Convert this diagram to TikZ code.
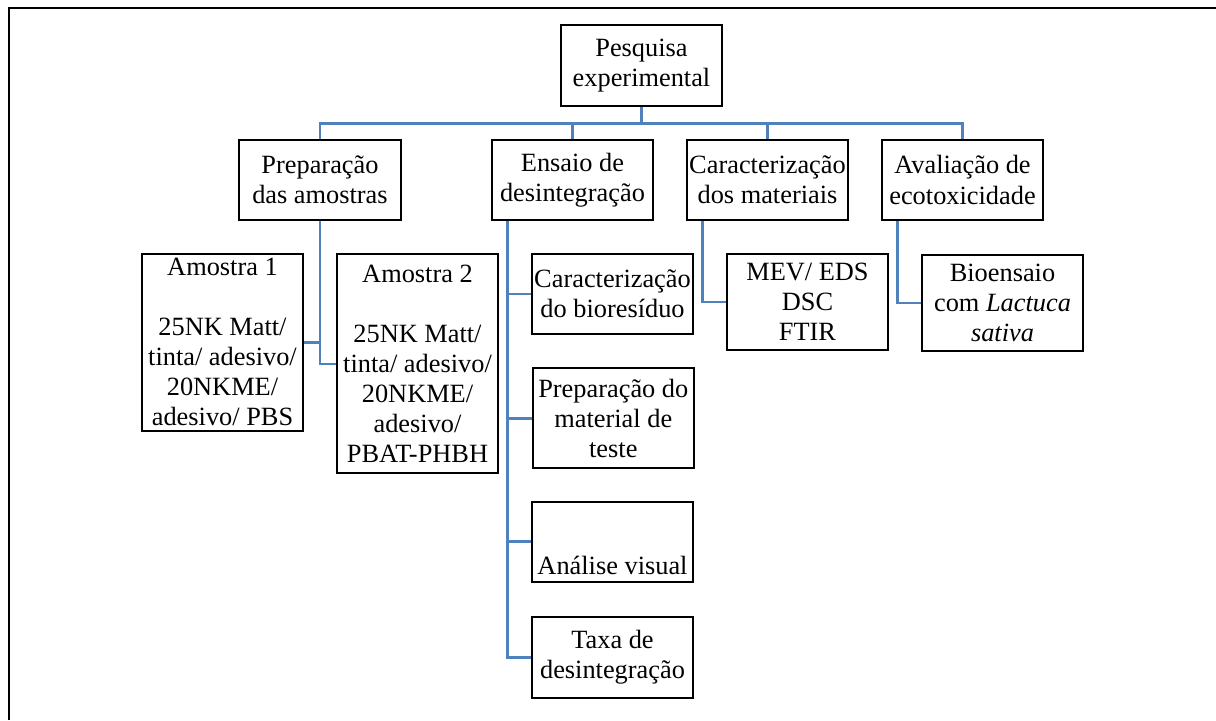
\documentclass[tikz,border=0pt]{standalone}
\usepackage{fontspec}
\setmainfont{Liberation Serif}
\usepackage{xcolor}
\usepackage{tikz}
\usetikzlibrary{positioning}

\definecolor{linkblue}{HTML}{4F81BD}

\begin{document}
\begin{tikzpicture}[x=0.02cm, y=-0.02cm,
  block/.style={draw, rectangle, line width=1.1pt, minimum width=3.23cm, minimum height=1.6cm,
    inner xsep=1pt, inner ysep=0pt, align=center, font=\fontsize{15}{17.1}\selectfont},
  link/.style={draw=linkblue, line width=1.4pt}]

\useasboundingbox (0,0) rectangle (1216,720);
\draw[line width=1.5pt] (9,720) -- (9,8) -- (1216,8);

\node [block, minimum height=1.62cm] (pesq) at (641.5,65.7) {Pesquisa\\experimental};

\node [block] (prep) at (320,180) {Preparação\\das amostras};
\node [block] (ensaio) at (572.5,180) {Ensaio de\\desintegração};
\node [block] (carac) at (767.5,180) {Caracterização\\dos materiais};
\node [block] (aval) at (962.5,180) {Avaliação de\\ecotoxicidade};

\node [block, minimum height=3.53cm] (am1) at (222.5,342.3) {Amostra 1\\[0.6cm]25NK Matt/\\tinta/ adesivo/\\20NKME/\\adesivo/ PBS};
\node [block, minimum height=4.38cm] (am2) at (417.5,363.8) {Amostra 2\\[0.6cm]25NK Matt/\\tinta/ adesivo/\\20NKME/\\adesivo/\\PBAT-PHBH};

\node [block] (biores) at (612.5,294.2) {Caracterização\\do bioresíduo};
\node [block, minimum height=2cm] (prepmat) at (613.3,418.3) {Preparação do\\material de\\teste};
\node [block, text height=1.33cm, text depth=0pt] (visual) at (612.5,541.7) {Análise visual};
\node [block, minimum height=1.63cm] (taxa) at (612.5,657.5) {Taxa de\\desintegração};

\node [block, minimum height=1.92cm] (mev) at (807.5,302) {MEV/ EDS\\DSC\\FTIR};
\node [block, minimum height=1.92cm] (bioens) at (1002.5,302.8) {Bioensaio\\com \textit{Lactuca}\\\textit{sativa}};

% ligações
\coordinate (bus) at (641.5,123.3);
\draw[link] (pesq.south) -- (bus);
\foreach \n in {prep,ensaio,carac,aval}
  \draw[link] (\n.north) |- (bus);

\draw[link] (prep.south) |- (am1.east);
\draw[link] (prep.south) |- (am2.west);

\foreach \n in {biores,prepmat,visual,taxa}
  \draw[link] ([xshift=0.333cm]ensaio.south west) |- (\n.west);

\draw[link] ([xshift=0.333cm]carac.south west) |- (mev.west);
\draw[link] ([xshift=0.333cm]aval.south west) |- (bioens.west);

\end{tikzpicture}
\end{document}
